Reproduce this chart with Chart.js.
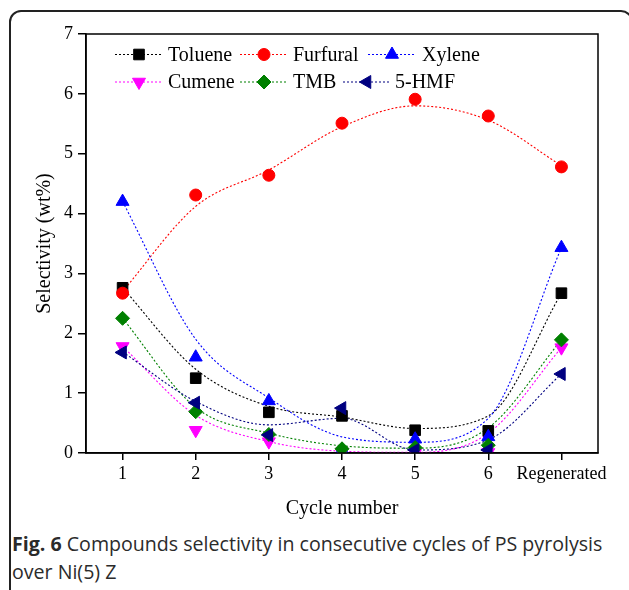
<!DOCTYPE html>
<html>
<head>
<meta charset="utf-8">
<script src="https://cdn.jsdelivr.net/npm/chart.js@4.4.1/dist/chart.umd.min.js"></script>
<style>
  body { margin:0; background:#fff; width:629px; height:590px; overflow:hidden; position:relative; }
  #frame { position:absolute; left:9px; top:10px; width:624px; height:600px; border:2px solid #222; border-radius:12px; box-sizing:border-box; }
  #chart { position:absolute; left:0; top:0; }
  #caption { position:absolute; left:12px; top:530px; font-family:"Open Sans", sans-serif; font-size:19.6px; line-height:28px; color:#2b2b2b; white-space:nowrap; }
</style>
</head>
<body>
<div id="frame"></div>
<canvas id="chart" width="629" height="530"></canvas>
<div id="caption"><b>Fig. 6</b> Compounds selectivity in consecutive cycles of PS pyrolysis<br>over Ni(5) Z</div>
<script>
// data
const categories = ['1', '2', '3', '4', '5', '6', 'Regenerated'];
const yTicks = [0, 1, 2, 3, 4, 5, 6, 7];

const toluene  = [2.76, 1.25, 0.68, 0.62, 0.38, 0.37, 2.67];
const furfural = [2.67, 4.31, 4.64, 5.51, 5.91, 5.63, 4.78];
const xylene   = [4.20, 1.60, 0.87, 0.05, 0.23, 0.27, 3.43];
const cumene   = [1.78, 0.38, 0.19, 0.02, 0.00, 0.01, 1.76];
const tmb      = [2.25, 0.69, 0.31, 0.07, 0.09, 0.13, 1.89];
const hmf      = [1.68, 0.84, 0.30, 0.75, 0.05, 0.05, 1.32];

// fitted curves (value of the drawn fit line at each cycle)
const tolueneFit  = [2.76, 1.40, 0.78, 0.60, 0.41, 0.62, 2.67];
const furfuralFit = [2.70, 4.12, 4.73, 5.45, 5.80, 5.56, 4.80];
const xyleneFit   = [4.20, 1.90, 0.92, 0.27, 0.18, 0.58, 3.43];
const cumeneFit   = [1.78, 0.63, 0.19, 0.03, 0.01, 0.33, 1.76];
const tmbFit      = [2.25, 0.76, 0.33, 0.12, 0.08, 0.42, 1.89];
const hmfFit      = [1.69, 0.86, 0.47, 0.58, 0.05, 0.22, 1.32];

const series = [
  { name:'Toluene',  pts:toluene,  fit:tolueneFit,  color:'#000000', shape:'rect',     rot:0,   r:7.5, row:0, lx:115, tx:168 },
  { name:'Furfural', pts:furfural, fit:furfuralFit, color:'#ff0000', shape:'circle',   rot:0,   r:6,   row:0, lx:240, tx:293 },
  { name:'Xylene',   pts:xylene,   fit:xyleneFit,   color:'#0000ff', shape:'triangle', rot:0,   r:7.5, row:0, lx:368, tx:422 },
  { name:'Cumene',   pts:cumene,   fit:cumeneFit,   color:'#ff00ff', shape:'triangle', rot:180, r:7.5, row:1, lx:115, tx:168 },
  { name:'TMB',      pts:tmb,      fit:tmbFit,      color:'#008000', shape:'rectRot',  rot:0,   r:7,   row:1, lx:240, tx:293 },
  { name:'5-HMF',    pts:hmf,      fit:hmfFit,      color:'#000080', shape:'triangle', rot:-90, r:7.5, row:1, lx:343, tx:395 }
];

const toXY = arr => arr.map((v, i) => ({ x: i + 1, y: v }));
const serif = '"Liberation Serif", "Times New Roman", serif';

const datasets = [];
series.forEach((s, i) => {
  datasets.push({
    label: s.name + ' fit', data: toXY(s.fit), showLine: true,
    borderColor: s.color, borderWidth: 1.1, borderDash: [2, 2],
    pointRadius: 0, cubicInterpolationMode: 'monotone', order: 20 - i
  });
  datasets.push({
    label: s.name, data: toXY(s.pts), showLine: false,
    pointStyle: s.shape, pointRotation: s.rot, pointRadius: s.r,
    backgroundColor: s.color, borderColor: s.color, borderWidth: 1, order: 10 - i
  });
});

const framePlugin = {
  id: 'frame',
  afterDraw(chart) {
    const { ctx, chartArea: a } = chart;
    ctx.save();
    ctx.strokeStyle = '#000';
    ctx.lineWidth = 1.5;
    ctx.strokeRect(a.left, a.top, a.right - a.left, a.bottom - a.top);
    ctx.restore();
  }
};

const legendPlugin = {
  id: 'innerLegend',
  afterDraw(chart) {
    const ctx = chart.ctx;
    const legendFont = Chart.helpers.toFont({ family: serif, size: 20 });
    series.forEach(s => {
      const y = s.row === 0 ? 54.5 : 82;
      ctx.save();
      ctx.strokeStyle = s.color;
      ctx.lineWidth = 1.1;
      ctx.setLineDash([2, 2]);
      ctx.beginPath();
      ctx.moveTo(s.lx, y);
      ctx.lineTo(s.lx + 47, y);
      ctx.stroke();
      ctx.setLineDash([]);
      ctx.fillStyle = s.color;
      ctx.strokeStyle = s.color;
      ctx.lineWidth = 1;
      Chart.helpers.drawPoint(ctx, { pointStyle: s.shape, rotation: s.rot, radius: s.r, borderWidth: 1 }, s.lx + 24, y);
      ctx.restore();
      ctx.save();
      ctx.fillStyle = '#000';
      ctx.font = legendFont.string;
      ctx.textAlign = 'left';
      ctx.textBaseline = 'middle';
      ctx.fillText(s.name, s.tx, y + 1);
      ctx.restore();
    });
  }
};

new Chart(document.getElementById('chart'), {
  type: 'scatter',
  data: { datasets },
  plugins: [framePlugin, legendPlugin],
  options: {
    responsive: false,
    animation: false,
    layout: { padding: { left: 0, top: 34, right: 31, bottom: 0 } },
    plugins: { legend: { display: false }, tooltip: { enabled: false } },
    scales: {
      x: {
        type: 'linear', min: 0.5, max: 7.5,
        afterFit: sc => { sc.height = 77; },
        afterBuildTicks: sc => { sc.ticks = categories.map((c, i) => ({ value: i + 1 })); },
        ticks: { callback: (v) => categories[v - 1] || '', color: '#000', font: { family: serif, size: 18 }, padding: 3, maxRotation: 0, autoSkip: false },
        grid: { drawOnChartArea: false, drawTicks: true, tickLength: 7, color: '#000', lineWidth: 1.5 },
        border: { color: '#000', width: 1.5 },
        title: { display: true, text: 'Cycle number', color: '#000', font: { family: serif, size: 20 }, padding: { top: 0, bottom: 9 } }
      },
      y: {
        min: 0, max: 7,
        afterFit: sc => { sc.width = 86; },
        afterBuildTicks: sc => { sc.ticks = yTicks.map(v => ({ value: v })); },
        ticks: { color: '#000', font: { family: serif, size: 18 }, padding: 5 },
        grid: { drawOnChartArea: false, drawTicks: true, tickLength: 8, color: '#000', lineWidth: 1.5 },
        border: { color: '#000', width: 1.5 },
        title: { display: true, text: 'Selectivity (wt%)', color: '#000', font: { family: serif, size: 20 }, padding: { top: 33, bottom: 0 } }
      }
    }
  }
});
</script>
</body>
</html>
